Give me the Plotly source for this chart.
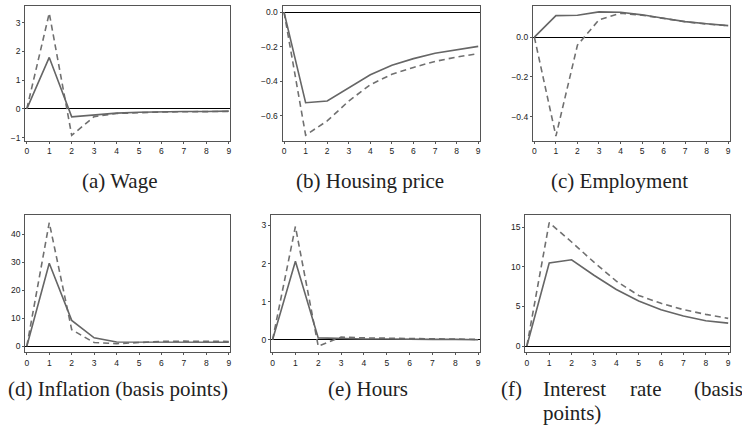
import plotly.graph_objects as go

# ---- data ----
periods = [0, 1, 2, 3, 4, 5, 6, 7, 8, 9]
x_ticks = [0, 1, 2, 3, 4, 5, 6, 7, 8, 9]

wage_solid = [0, 1.79, -0.28, -0.21, -0.15, -0.12, -0.1, -0.09, -0.09, -0.08]
wage_dash = [0, 3.33, -0.92, -0.27, -0.16, -0.13, -0.11, -0.1, -0.09, -0.09]

housing_solid = [0, -0.525, -0.515, -0.44, -0.363, -0.308, -0.269, -0.238, -0.217, -0.198]
housing_dash = [0, -0.713, -0.63, -0.515, -0.42, -0.36, -0.32, -0.285, -0.26, -0.24]

employment_solid = [0, 0.108, 0.11, 0.127, 0.125, 0.112, 0.095, 0.078, 0.067, 0.058]
employment_dash = [0, -0.497, -0.04, 0.087, 0.12, 0.11, 0.094, 0.077, 0.066, 0.057]

inflation_solid = [0, 29.6, 9.2, 3.0, 1.5, 1.5, 1.5, 1.5, 1.4, 1.4]
inflation_dash = [0, 44.1, 5.9, 1.3, 0.9, 1.4, 1.7, 1.8, 1.7, 1.7]

hours_solid = [0, 2.06, 0.05, 0.03, 0.02, 0.02, 0.01, 0.01, 0.01, 0.0]
hours_dash = [0, 2.97, -0.17, 0.07, 0.05, 0.04, 0.03, 0.02, 0.01, 0.01]

rate_solid = [0, 10.5, 10.9, 8.95, 7.14, 5.7, 4.6, 3.8, 3.2, 2.9]
rate_dash = [0, 15.6, 13.15, 10.6, 8.2, 6.4, 5.4, 4.6, 4.0, 3.5]

wage_yticks = [-1, 0, 1, 2, 3]
housing_yticks = [-0.6, -0.4, -0.2, 0.0]
employment_yticks = [-0.4, -0.2, 0.0]
inflation_yticks = [0, 10, 20, 30, 40]
hours_yticks = [0, 1, 2, 3]
rate_yticks = [0, 5, 10, 15]

W, H = 742, 435

panels = [
    # solid, dash, yticks, yfmt, yrange, frame px (x0, x1, ytop, ybot)
    (wage_solid, wage_dash, wage_yticks, "d", [-1.12, 3.59], (24.3, 230, 5.7, 141.7)),
    (housing_solid, housing_dash, housing_yticks, ".1f", [-0.747, 0.038], (282.3, 480, 5.7, 141.7)),
    (employment_solid, employment_dash, employment_yticks, ".1f", [-0.522, 0.158], (533.3, 730.7, 5.7, 141.7)),
    (inflation_solid, inflation_dash, inflation_yticks, "d", [-2.2, 46.9], (24.3, 230, 215.7, 354)),
    (hours_solid, hours_dash, hours_yticks, "d", [-0.33, 3.28], (270.7, 480, 215.7, 354)),
    (rate_solid, rate_dash, rate_yticks, "d", [-0.8, 16.6], (525.7, 730.7, 215.7, 354)),
]

fig = go.Figure()
line_col = "#666666"
frame_col = "#555555"
tick_font = dict(family="Liberation Sans, Arial, sans-serif", size=8.5, color="#222222")

layout = {}
for i, (ys, yd, yt, fmt, yr, (px0, px1, pyt, pyb)) in enumerate(panels, start=1):
    xa = "x" if i == 1 else f"x{i}"
    ya = "y" if i == 1 else f"y{i}"
    fig.add_trace(go.Scatter(x=periods, y=yd, mode="lines", xaxis=xa, yaxis=ya,
                             line=dict(color="#707070", width=1.6, dash="6px,4px"),
                             showlegend=False, hoverinfo="skip"))
    fig.add_trace(go.Scatter(x=periods, y=ys, mode="lines", xaxis=xa, yaxis=ya,
                             line=dict(color=line_col, width=1.6),
                             showlegend=False, hoverinfo="skip"))
    xk = "xaxis" if i == 1 else f"xaxis{i}"
    yk = "yaxis" if i == 1 else f"yaxis{i}"
    layout[xk] = dict(domain=[px0 / W, px1 / W], anchor=ya, range=[-0.07, 9.07],
                      tickvals=x_ticks, showgrid=False, zeroline=False,
                      showline=True, mirror=True, linecolor=frame_col, linewidth=1,
                      ticks="outside", ticklen=2, tickcolor=frame_col,
                      tickfont=tick_font, fixedrange=True)
    layout[yk] = dict(domain=[1 - pyb / H, 1 - pyt / H], anchor=xa, range=yr,
                      tickvals=yt, tickformat=fmt, showgrid=False,
                      zeroline=True, zerolinecolor="black", zerolinewidth=1.3,
                      showline=True, mirror=True, linecolor=frame_col, linewidth=1,
                      ticks="outside", ticklen=2, tickcolor=frame_col,
                      tickfont=tick_font, fixedrange=True)

cap_font = dict(family="Liberation Serif, Times New Roman, serif", size=21, color="#222222")
annotations = []
def cap(text, x, y, anchor="center"):
    annotations.append(dict(text=text, x=x / W, y=1 - y / H, xref="paper", yref="paper",
                            xanchor=anchor, yanchor="middle", showarrow=False, font=cap_font))

cap("(a) Wage", 118.5, 182)
cap("(b) Housing price", 370, 182)
cap("(c) Employment", 620, 182)
cap("(d) Inflation (basis points)", 117.5, 391)
cap("(e) Hours", 368, 391)
cap("(f)", 499, 391, "left")
cap("Interest", 541, 391, "left")
cap("rate", 629, 391, "left")
cap("(basis", 693, 391, "left")
cap("points)", 541, 415, "left")

fig.update_layout(width=W, height=H, margin=dict(l=0, r=0, t=0, b=0),
                  paper_bgcolor="white", plot_bgcolor="white",
                  annotations=annotations, **layout)

fig.write_html("out.html", config={"displayModeBar": False})
